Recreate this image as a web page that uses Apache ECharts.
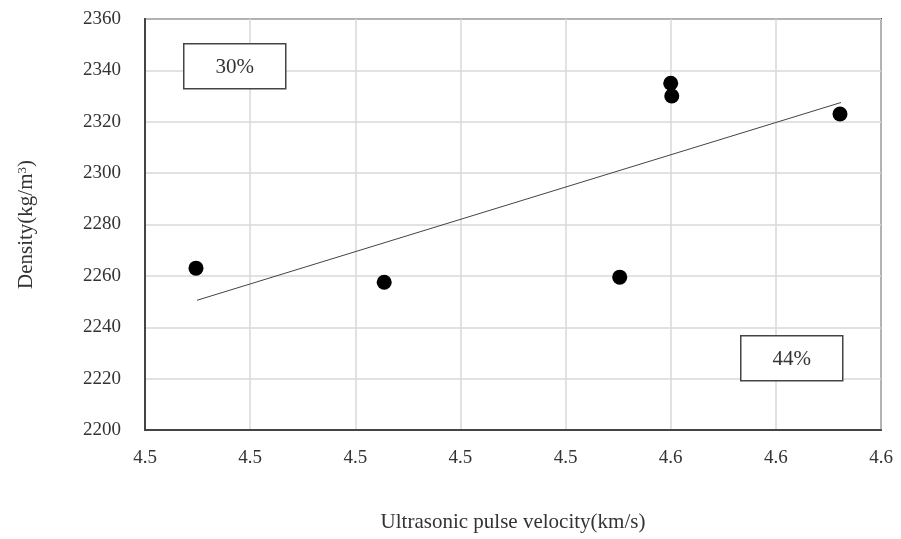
<!DOCTYPE html>
<html>
<head>
<meta charset="utf-8">
<script src="https://cdn.jsdelivr.net/npm/echarts@6/dist/echarts.min.js"></script>
<style>
  html, body { margin: 0; padding: 0; background: #fff; }
  #chart { width: 901px; height: 539px; }
</style>
</head>
<body>
<div id="chart"></div>
<script>
const velocity = [4.4697, 4.5055, 4.5503, 4.5600, 4.5602, 4.5922];
const density = [2263, 2257.5, 2259.5, 2335, 2330, 2323];

// Extrémités de la droite de tendance
const trendX = [4.4699, 4.5924];
const trendY = [2250.5, 2327.5];

// Étiquettes des encadrés
const boxLabels = ["30%", "44%"];

const serif = "Liberation Serif";

const chart = echarts.init(document.getElementById("chart"));

// Encadré blanc avec un texte centré
function labelBox(text, left, top)
{
    return {
        type: "group", left, top, z: 100,
        children: [
            { type: "rect", z: 100, shape: { x: 0, y: 0, width: 102, height: 45 }, style: { fill: "#fff", stroke: "#444", lineWidth: 1.5 } },
            { type: "text", z: 101, x: 51, y: 24, style: { text, font: "21px " + serif, fill: "#333", align: "center", verticalAlign: "middle" } }
        ]
    };
}

chart.setOption({
    backgroundColor: "#fff",
    animation: false,
    grid: {
        left: 145, right: 20, top: 19, bottom: 109,
        show: true,
        borderColor: "#444",
        borderWidth: 2
    },
    xAxis: {
        type: "value",
        min: 4.46,
        max: 4.60,
        interval: 0.02,
        name: "Ultrasonic pulse velocity(km/s)",
        nameLocation: "middle",
        nameGap: 82,
        nameTextStyle: { fontFamily: serif, fontSize: 21, color: "#333" },
        axisLine: { show: true, lineStyle: { color: "#444", width: 2 } },
        axisTick: { show: false },
        axisLabel: {
            fontFamily: serif, fontSize: 19, color: "#333", margin: 19,
            formatter: (v) => v.toFixed(1)
        },
        splitLine: { show: true, lineStyle: { color: "#d9d9d9", width: 1.5 } }
    },
    yAxis: {
        type: "value",
        min: 2200,
        max: 2360,
        interval: 20,
        name: "{a|Density(kg/m}{b|3}{a|)}",
        nameLocation: "middle",
        nameRotate: 90,
        nameGap: 108,
        nameTextStyle: {
            rich: {
                a: { fontFamily: serif, fontSize: 21, color: "#333" },
                b: { fontFamily: serif, fontSize: 13, color: "#333", verticalAlign: "top", padding: [0, 0, 8, 0] }
            }
        },
        axisLine: { show: true, lineStyle: { color: "#444", width: 2 } },
        axisTick: { show: false },
        axisLabel: {
            fontFamily: serif, fontSize: 19, color: "#333", margin: 24,
            formatter: (v) => String(v)
        },
        splitLine: { show: true, lineStyle: { color: "#d9d9d9", width: 1.5 } }
    },
    series: [
        {
            type: "line",
            data: trendX.map((x, i) => [x, trendY[i]]),
            symbol: "none",
            lineStyle: { color: "#444", width: 1 },
            z: 2
        },
        {
            type: "scatter",
            data: velocity.map((v, i) => [v, density[i]]),
            symbol: "circle",
            symbolSize: 15,
            itemStyle: { color: "#000", opacity: 1 },
            z: 3
        }
    ],
    graphic: [
        labelBox(boxLabels[0], 183, 43),
        labelBox(boxLabels[1], 740, 335)
    ]
});
</script>
</body>
</html>
